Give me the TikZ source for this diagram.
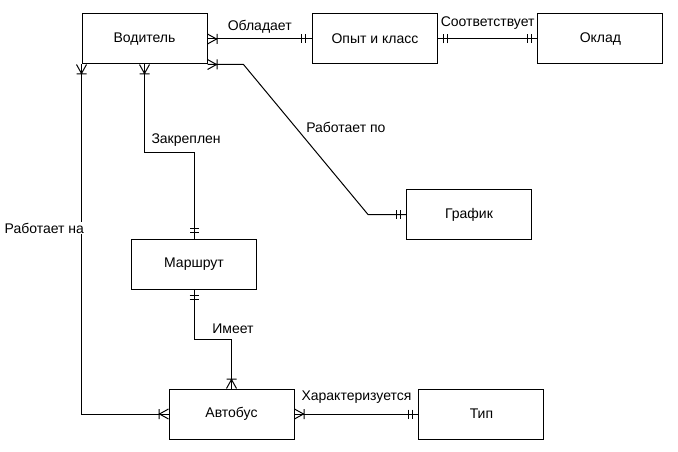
\documentclass[tikz,border=0pt]{standalone}
\usepackage{fontspec}
\setmainfont{Liberation Sans}
\usepackage{tikz}
\usetikzlibrary{arrows.meta, positioning}
\pgfdeclarearrow{
  name = crowsfoot,
  setup code = {
    \pgfarrowssettipend{0pt}
    \pgfarrowssetlineend{0pt}
    \pgfarrowssetbackend{-10pt}
    \pgfarrowshullpoint{0pt}{5pt}
    \pgfarrowshullpoint{-10pt}{-5pt}
  },
  drawing code = {
    \pgfpathmoveto{\pgfqpoint{0pt}{5pt}}
    \pgfpathlineto{\pgfqpoint{-9pt}{0pt}}
    \pgfpathlineto{\pgfqpoint{0pt}{-5pt}}
    \pgfpathmoveto{\pgfqpoint{-9.5pt}{5pt}}
    \pgfpathlineto{\pgfqpoint{-9.5pt}{-5pt}}
    \pgfusepathqstroke
  }
}
\pgfdeclarearrow{
  name = doublebar,
  setup code = {
    \pgfarrowssettipend{0pt}
    \pgfarrowssetlineend{0pt}
    \pgfarrowssetbackend{-10pt}
    \pgfarrowshullpoint{0pt}{5pt}
    \pgfarrowshullpoint{-10pt}{-5pt}
  },
  drawing code = {
    \pgfpathmoveto{\pgfqpoint{-6pt}{4.5pt}}
    \pgfpathlineto{\pgfqpoint{-6pt}{-4.5pt}}
    \pgfpathmoveto{\pgfqpoint{-10pt}{4.5pt}}
    \pgfpathlineto{\pgfqpoint{-10pt}{-4.5pt}}
    \pgfusepathqstroke
  }
}
\tikzstyle{entity} = [rectangle, minimum width=125pt, minimum height=50pt,
    text centered, draw=black, line width=1pt,
font=\fontsize{14}{17}\selectfont]
\tikzstyle{link} = [line width=1pt]
\tikzstyle{lbl} = [fill=white, inner sep=1pt, font=\fontsize{14}{17}\selectfont]

\begin{document}
\begin{tikzpicture}[x=1pt, y=-1pt]
            \useasboundingbox (0,0) rectangle (678,452);
            % Entities
            \node[entity] (voditel) at (144.5,39) {Водитель};
            \node[entity, right of=voditel, xshift=202pt] (opyt) {Опыт и класс};
            \node[entity, right of=opyt, xshift=197pt] (oklad) {Оклад};
            \node[entity] (grafik) at (469,214.5) {График};
            \node[entity] (marshrut) at (194,264.3) {Маршрут};
            \node[entity] (avtobus) at (231.5,414) {Автобус};
            \node[entity, right of=avtobus, xshift=221.5pt] (tip) {Тип};
            % Relations
            \draw[link, crowsfoot-doublebar] (voditel.east) -- node[lbl, midway, yshift=12pt] {Обладает} (opyt.west);
            \draw[link, doublebar-doublebar] (opyt.east) -- node[lbl, midway, yshift=16pt] {Соответствует} (oklad.west);
            \draw[link, crowsfoot-doublebar] (voditel.south east) -- ++(36,0)
                -- node[lbl, pos=0.42, anchor=west, xshift=9pt] {Работает по} ([xshift=-38pt]grafik.west) -- (grafik.west);
            \draw[link, crowsfoot-doublebar] (voditel.south) -- node[lbl, pos=0.864, anchor=west, xshift=5.5pt] {Закреплен} ++(0,88) -| (marshrut.north);
            \draw[link, crowsfoot-crowsfoot] (voditel.south west) |- node[lbl, pos=0.234, anchor=east, xshift=4pt] {Работает на} (avtobus.west);
            \draw[link, doublebar-crowsfoot] (marshrut.south) -- ++(0,50) -| node[lbl, pos=0.5, xshift=1.5pt, yshift=11.5pt] {Имеет} (avtobus.north);
            \draw[link, crowsfoot-doublebar] (avtobus.east) -- node[lbl, midway, yshift=16.5pt] {Характеризуется} (tip.west);
\end{tikzpicture}
\end{document}
